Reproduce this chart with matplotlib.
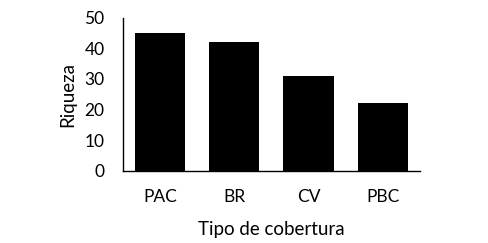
import matplotlib
matplotlib.use("Agg")
from matplotlib import pyplot as plt

categories = ["PAC", "BR", "CV", "PBC"]
riqueza = [45, 42, 31, 22]
y_ticks = [0, 10, 20, 30, 40, 50]

plt.rcParams['font.family'] = ['Lato', 'DejaVu Sans']

fig = plt.figure(figsize=(4.88, 2.43), dpi=100)
ax = fig.add_axes([0.2514, 0.2975, 0.6093, 0.6295])
x = range(len(categories))
ax.bar(x, riqueza, width=0.68, color="black")
ax.set_xlim(-0.5, len(categories) - 0.5)
ax.set_ylim(0, 50)
ax.set_yticks(y_ticks)
ax.set_xticks(list(x))
ax.set_xticklabels(categories)
ax.tick_params(axis="both", length=0, labelsize=12.5)
ax.tick_params(axis="y", pad=13)
ax.tick_params(axis="x", pad=13)
ax.spines["top"].set_visible(False)
ax.spines["right"].set_visible(False)
ax.spines["left"].set_linewidth(1.0)
ax.spines["bottom"].set_linewidth(1.0)
ax.set_ylabel("Riqueza", fontsize=13.5, labelpad=6)
ax.set_xlabel("Tipo de cobertura", fontsize=13.5, labelpad=12)

fig.savefig("out.png", dpi=100)
